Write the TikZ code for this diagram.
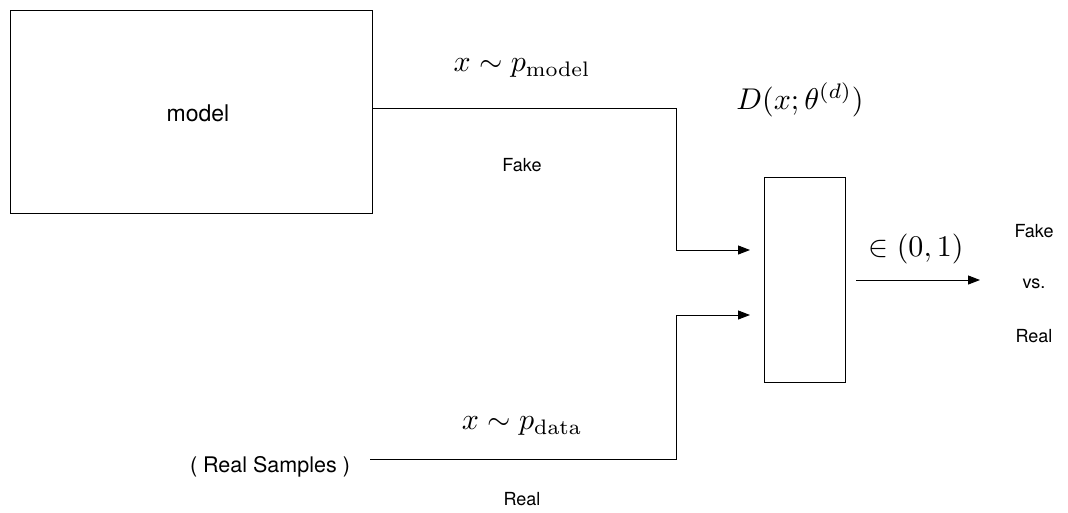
\documentclass[tikz,border=0pt]{standalone}
\usepackage[no-math]{fontspec}
\setmainfont{TeX Gyre Heros}
\usetikzlibrary{arrows.meta}
\begin{document}
\begin{tikzpicture}[x=1pt,y=-1pt,
  box/.style={draw,line width=1pt,inner sep=0pt},
  wire/.style={line width=1pt},
  tip/.style={wire,-{Triangle[length=12pt,width=9pt]}},
  lbl/.style={font=\fontsize{18}{21}\selectfont,inner sep=0pt},
  mlbl/.style={scale=3.0,inner sep=0pt}]
\useasboundingbox (0,0) rectangle (1068,512);
% generator and discriminator blocks
\node[box,minimum width=362pt,minimum height=203pt] (model) at (191,111.5) {};
\node[font=\fontsize{23}{27}\selectfont] (mtxt) at (198,113) {model};
\node[box,minimum width=81pt,minimum height=205pt] (disc) at (804.5,279.5) {};
% free ends of the connectors
\coordinate (src) at (370,459);
\coordinate (o0) at (856,280);
\coordinate (out) at (980,280);
\coordinate (in1) at (750,250);
\coordinate (in2) at (750,315);
\draw[tip] (model.east |- 0,108) -| (676,250) -- (in1);
\draw[tip] (src) -| (676,315) -- (in2);
\draw[tip] (o0) -- (out);
% labels
\node[mlbl] (l1) at (522,68) {$x \sim p_{\mathrm{model}}$};
\node[lbl] (l2) at (522,165) {Fake};
\node[mlbl] (l3) at (800,100) {$D(x;\theta^{(d)})$};
\node[mlbl] (l4) at (916,249) {$\in (0,1)$};
\node[lbl] (l5) at (1034,231) {Fake};
\node[lbl] (l6) at (1034,284) {vs.};
\node[lbl] (l7) at (1034,336) {Real};
\node[lbl,font=\fontsize{21.5}{25}\selectfont] (l8) at (270,467) {( Real Samples )};
\node[mlbl] (l9) at (522,426) {$x \sim p_{\mathrm{data}}$};
\node[lbl] (l10) at (522,499) {Real};
\end{tikzpicture}
\end{document}
